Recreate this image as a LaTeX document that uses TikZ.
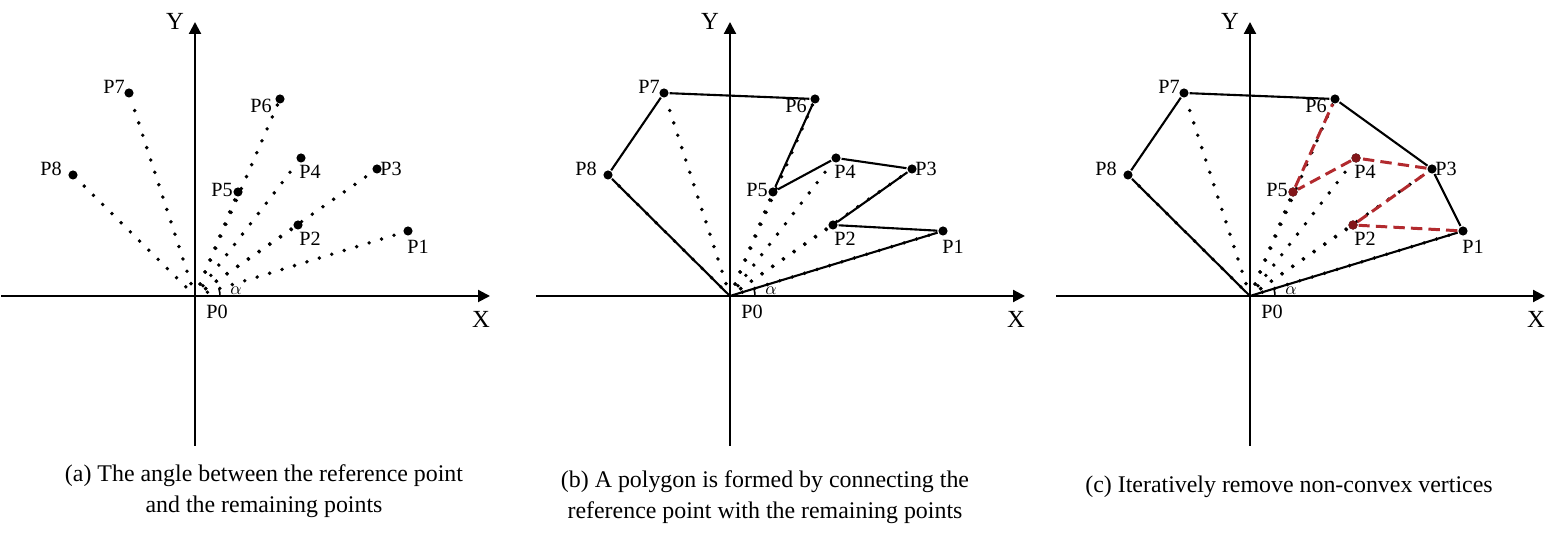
\documentclass[tikz,border=0pt]{standalone}
\usepackage{fontspec}
\setmainfont{Liberation Serif}
\usepackage{tikz}
\usetikzlibrary{arrows.meta,calc}
\definecolor{cutred}{RGB}{178,42,46}
\definecolor{cutdot}{RGB}{130,22,26}

\begin{document}
\begin{tikzpicture}[x=0.02cm,y=0.02cm,>={Triangle[length=6.8pt,width=6.8pt]},line width=1.2pt]
		\tikzstyle{pt}=[circle,fill=black,inner sep=0pt,minimum size=5.2pt]
		\tikzstyle{ray}=[line width=2.2pt,line cap=round,dash pattern=on 0pt off 7.4pt]
		\tikzstyle{cut}=[draw=cutred,line width=1.7pt,dash pattern=on 6.5pt off 3.5pt]
		\tikzstyle{lbl}=[inner sep=0pt,font=\fontsize{11.5}{13}\selectfont]
		\tikzstyle{axlbl}=[inner sep=0pt,font=\fontsize{14}{16}\selectfont]
		\tikzstyle{caption}=[inner sep=0pt,align=center,font=\fontsize{13.6}{17.6}\selectfont]

		\useasboundingbox (0,0) rectangle (1559,536);

		% the same axes and points in all three panels
		\foreach \p/\ox in {a/195,b/730,c/1250} {
			\begin{scope}[shift={(\ox,240)}]
				\coordinate (\p P0) at (0,0);
				\coordinate (\p Xl) at (-194,0);
				\coordinate (\p Xr) at (295,0);
				\coordinate (\p Yb) at (0,-150);
				\coordinate (\p Yt) at (0,274);
				\draw[->] (\p Xl) -- (\p Xr);
				\draw[->] (\p Yb) -- (\p Yt);
				\node[axlbl] (\p X) at (286,-23) {X};
				\node[axlbl] (\p Y) at (-20,275) {Y};
				\node[lbl] (\p L0) at (22,-16) {P0};
				\draw[line width=0.9pt] (25,0) arc[start angle=0,end angle=17,radius=25];
				\node[inner sep=0pt,font=\fontsize{10}{11}\selectfont] (\p A) at (41,5) {$\alpha$};
				\foreach \i/\x/\y/\dx/\dy in {1/213/65/10/-16, 2/103/71/12/-14, 3/182/127/14/0, 4/106/138/9/-14, 5/43/104/-16/2, 6/85/197/-19/-7, 7/-66/203/-15/6, 8/-122/121/-22/6} {
					\node[pt] (\p P\i) at (\x,\y) {};
					\node[lbl] (\p L\i) at (\x+\dx,\y+\dy) {P\i};
					\draw[ray] (\p P0) -- (\p P\i);
				}
			\end{scope}
		}

		% (b) polygon through all points
		\draw (bP0) -- (bP1) -- (bP2) -- (bP3) -- (bP4) -- (bP5) -- (bP6) -- (bP7) -- (bP8) -- (bP0);

		% (c) convex hull and removed vertices
		\draw (cP0) -- (cP1) -- (cP3) -- (cP6) -- (cP7) -- (cP8) -- (cP0);
		\draw[cut] (cP1) -- (cP2) -- (cP3) -- (cP4) -- (cP5) -- (cP6);
		\foreach \i in {2,4,5} \node[pt,fill=cutdot] (cR\i) at (cP\i) {};

		\node[caption] (capA) at (264,45) {(a) The angle between the reference point\\and the remaining points};
		\node[caption] (capB) at (765,38.5) {(b) A polygon is formed by connecting the\\reference point with the remaining points};
		\node[caption] (capC) at (1289,49) {(c) Iteratively remove non-convex vertices};
	\end{tikzpicture}
\end{document}
